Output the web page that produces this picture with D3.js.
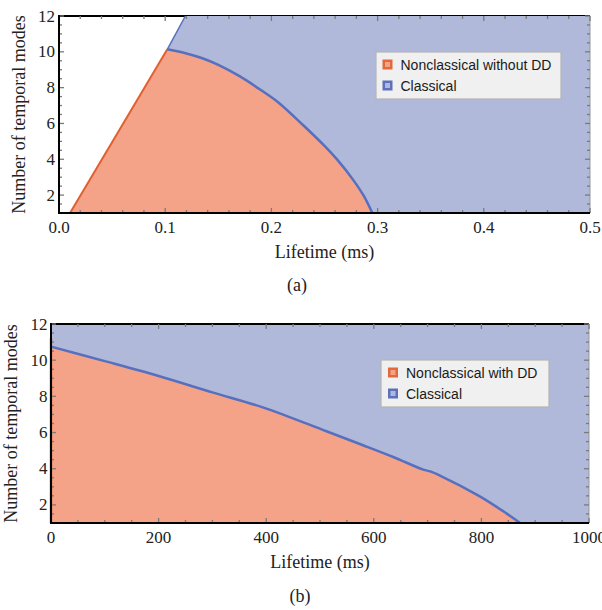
<!DOCTYPE html>
<html lang="en">
<head>
  <meta charset="UTF-8" />
  <title>Temporal modes vs lifetime</title>
  <script src="https://d3js.org/d3.v7.min.js"></script>
  <style>
    body { margin: 0; background: #fff; }
    svg text { fill: #222; }
    .tick-label { font-family: 'Liberation Serif', 'Times New Roman', serif; font-size: 17px; }
    .axis-title { font-family: 'Liberation Serif', 'Times New Roman', serif; font-size: 18px; }
    .legend text { font-family: 'Liberation Sans', Arial, sans-serif; font-size: 14px; fill: #1a1a1a; }
  </style>
</head>
<body>
<svg id="chart" width="602" height="610"></svg>
<script>
  // ---- data ----
  // (a) without DD, lifetime in ms
  const edgeT_a = [0.0104, 0.102, 0.119];       // left straight boundary
  const edgeN_a = [1, 10.14, 12];
  const curveT_a = [0.102, 0.12, 0.135, 0.15, 0.17, 0.19, 0.206, 0.23, 0.25, 0.262, 0.277, 0.287, 0.295];
  const curveN_a = [10.14, 9.91, 9.64, 9.27, 8.64, 7.87, 7.2, 5.9, 4.75, 3.98, 2.85, 1.95, 1.0];
  const xTicks_a = [0, 0.1, 0.2, 0.3, 0.4, 0.5];

  // (b) with DD, lifetime in ms
  const curveT_b = [0, 100, 203, 300, 395, 512, 580, 636, 692, 705, 723, 797, 847, 872];
  const curveN_b = [10.75, 9.95, 9.1, 8.22, 7.38, 6.07, 5.3, 4.65, 3.95, 3.85, 3.62, 2.47, 1.52, 1.0];
  const xTicks_b = [0, 200, 400, 600, 800, 1000];

  const yTicks = [2, 4, 6, 8, 10, 12];

  const redFill = "#f5a388", blueFill = "#b0b9d9";
  const blueLine = "#5670bf", orangeLine = "#e0602e";

  const svg = d3.select("#chart");
  const smooth = d3.line().curve(d3.curveCatmullRom.alpha(0.5));
  const straight = d3.line();
  const tail = p => smooth(p).replace(/^M/, "L");

  function panel(opt) {
    const g = svg.append("g");
    const x = d3.scaleLinear().domain(opt.xDomain).range([opt.left, opt.right]);
    const y = d3.scaleLinear().domain([1, 12]).range([opt.bottom, opt.top]);
    const pts = (ts, ns) => ts.map((t, i) => [x(t), y(ns[i])]);

    // top frame line (stays visible only where no fill covers it)
    g.append("line").attr("x1", opt.left).attr("x2", opt.right).attr("y1", opt.top).attr("y2", opt.top)
      .attr("stroke", "#000").attr("stroke-width", 2);

    // fills
    opt.regions.forEach(r => {
      g.append("path").attr("d", r.path(x, y, pts)).attr("fill", r.fill);
    });

    // boundaries
    opt.lines.forEach(l => {
      g.append("path").attr("d", (l.smooth ? smooth : straight)(pts(l.t, l.n))).attr("fill", "none")
        .attr("stroke", l.color).attr("stroke-width", l.width).attr("stroke-linejoin", "round");
    });

    if (opt.topBlack) {
      g.append("line").attr("x1", opt.left).attr("x2", opt.right).attr("y1", opt.top).attr("y2", opt.top)
        .attr("stroke", "#000").attr("stroke-width", 2);
    }
    g.append("line").attr("x1", opt.right).attr("x2", opt.right).attr("y1", opt.top).attr("y2", opt.bottom)
      .attr("stroke", "#999").attr("stroke-width", 1);

    // ticks
    const tickG = g.append("g").attr("stroke", "#7a7a7a").attr("stroke-width", 1.3);
    const xMinor = d3.range(opt.xDomain[0], opt.xDomain[1] + opt.xMinorStep / 2, opt.xMinorStep);
    xMinor.forEach(v => {
      const major = opt.xTicks.some(t => Math.abs(t - v) < opt.xMinorStep / 10);
      const len = major ? 5 : 3;
      tickG.append("line").attr("x1", x(v)).attr("x2", x(v)).attr("y1", opt.bottom).attr("y2", opt.bottom - len);
      tickG.append("line").attr("x1", x(v)).attr("x2", x(v)).attr("y1", opt.top).attr("y2", opt.top + len);
    });
    d3.range(1, 12.01, 0.5).forEach(v => {
      const major = v % 2 === 0;
      const len = major ? 5 : 3;
      tickG.append("line").attr("x1", opt.left).attr("x2", opt.left + len).attr("y1", y(v)).attr("y2", y(v));
      tickG.append("line").attr("x1", opt.right).attr("x2", opt.right - len).attr("y1", y(v)).attr("y2", y(v));
    });

    g.append("line").attr("x1", opt.left).attr("x2", opt.left).attr("y1", opt.top - 1).attr("y2", opt.bottom + 1)
      .attr("stroke", "#000").attr("stroke-width", 2);
    g.append("line").attr("x1", opt.left - 1).attr("x2", opt.right).attr("y1", opt.bottom).attr("y2", opt.bottom)
      .attr("stroke", "#000").attr("stroke-width", 2);

    // tick labels
    g.selectAll(".xl").data(opt.xTicks).enter().append("text")
      .attr("class", "tick-label").attr("text-anchor", "middle")
      .attr("x", d => x(d)).attr("y", opt.bottom + 20)
      .text(opt.xFormat);
    g.selectAll(".yl").data(yTicks).enter().append("text")
      .attr("class", "tick-label").attr("text-anchor", "end")
      .attr("x", opt.left - opt.yLabelGap).attr("y", d => y(d) + 5.5)
      .text(d => d);

    // axis titles
    g.append("text").attr("class", "axis-title").attr("text-anchor", "middle")
      .attr("x", (opt.left + opt.right) / 2).attr("y", opt.bottom + 45).text(opt.xTitle);
    g.append("text").attr("class", "axis-title").attr("text-anchor", "middle")
      .attr("transform", `translate(${opt.yTitleX},${(opt.top + opt.bottom) / 2}) rotate(-90)`)
      .text("Number of temporal modes");
    g.append("text").attr("class", "axis-title").attr("text-anchor", "middle")
      .attr("x", opt.capX).attr("y", opt.capY).text(opt.caption);

    // legend
    const lg = g.append("g").attr("class", "legend").attr("transform", `translate(${opt.legend.x},${opt.legend.y})`);
    lg.append("rect").attr("width", opt.legend.w).attr("height", 47)
      .attr("fill", "#eff0ef").attr("stroke", "#b5b5b5").attr("stroke-width", 1.2);
    opt.legend.items.forEach((it, i) => {
      const cy = 12.5 + i * 21;
      lg.append("rect").attr("x", opt.legend.sx).attr("y", cy - 5).attr("width", 10).attr("height", 10)
        .attr("fill", it.edge);
      lg.append("rect").attr("x", opt.legend.sx + 2.5).attr("y", cy - 2.5).attr("width", 5).attr("height", 5)
        .attr("fill", it.inner);
      lg.append("text").attr("x", opt.legend.tx).attr("y", cy + 5).text(it.label);
    });
  }

  // (a)
  panel({
    left: 59, right: 590, top: 16, bottom: 213,
    xDomain: [0, 0.5], xTicks: xTicks_a, xMinorStep: 0.02,
    xFormat: d => d.toFixed(1), yLabelGap: 4,
    xTitle: "Lifetime (ms)", yTitleX: 25,
    caption: "(a)", capX: 297, capY: 291,
    topBlack: false,
    regions: [
      { fill: redFill, path: (x, y, pts) =>
          straight([[x(edgeT_a[0]), y(1)], [x(edgeT_a[1]), y(edgeN_a[1])]]) +
          tail(pts(curveT_a, curveN_a)) + "Z" },
      { fill: blueFill, path: (x, y, pts) =>
          straight([[x(edgeT_a[1]), y(edgeN_a[1])], [x(edgeT_a[2]), y(edgeN_a[2])], [x(0.5), y(12)], [x(0.5), y(1)]]) +
          tail(pts(curveT_a, curveN_a).reverse()) + "Z" }
    ],
    lines: [
      { t: edgeT_a.slice(0, 2), n: edgeN_a.slice(0, 2), color: orangeLine, width: 2 },
      { t: edgeT_a.slice(1), n: edgeN_a.slice(1), color: blueLine, width: 1.5 },
      { t: curveT_a, n: curveN_a, color: blueLine, width: 2.5, smooth: true }
    ],
    legend: { x: 376, y: 52, w: 185, sx: 6.5, tx: 24.5, items: [
      { label: "Nonclassical without DD", edge: "#e3683a", inner: "#f0a488" },
      { label: "Classical", edge: "#5d70bb", inner: "#b0b9d9" }
    ] }
  });

  // (b)
  panel({
    left: 51, right: 589, top: 324, bottom: 523,
    xDomain: [0, 1000], xTicks: xTicks_b, xMinorStep: 50,
    xFormat: d => d, yLabelGap: 3.5,
    xTitle: "Lifetime  (ms)", yTitleX: 17,
    caption: "(b)", capX: 300, capY: 602,
    topBlack: true,
    regions: [
      { fill: redFill, path: (x, y, pts) =>
          straight([[x(0), y(1)]]) + tail(pts(curveT_b, curveN_b)) + "Z" },
      { fill: blueFill, path: (x, y, pts) =>
          straight([[x(0), y(12)], [x(1000), y(12)], [x(1000), y(1)]]) +
          tail(pts(curveT_b, curveN_b).reverse()) + "Z" }
    ],
    lines: [
      { t: [0, 0], n: [1, 11.2], color: orangeLine, width: 2.5 },
      { t: curveT_b, n: curveN_b, color: blueLine, width: 2.5, smooth: true }
    ],
    legend: { x: 381, y: 360, w: 168, sx: 7, tx: 25, items: [
      { label: "Nonclassical with DD", edge: "#e3683a", inner: "#f0a488" },
      { label: "Classical", edge: "#5d70bb", inner: "#b0b9d9" }
    ] }
  });
</script>
</body>
</html>
